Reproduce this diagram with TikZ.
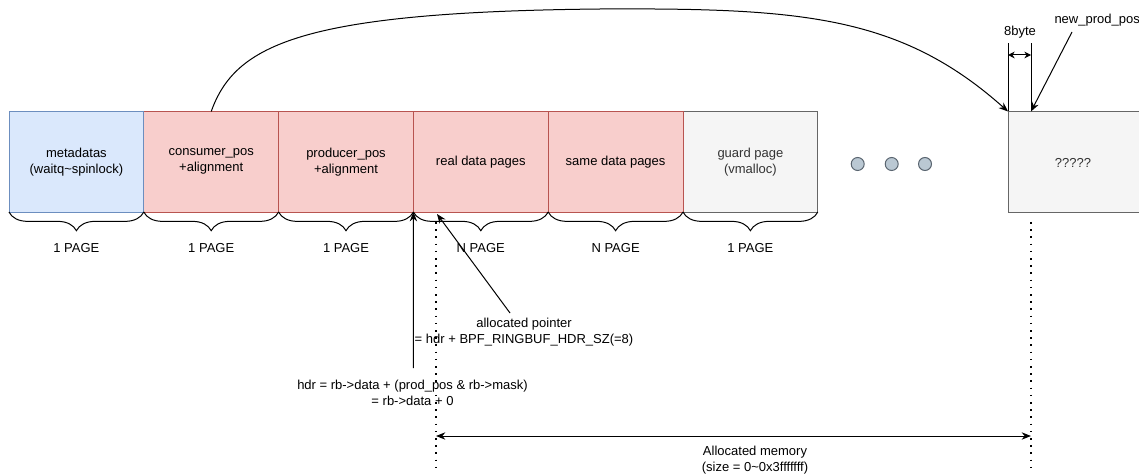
\documentclass[tikz,border=0pt]{standalone}
\usepackage{fontspec}
\setmainfont{Liberation Sans}
\usetikzlibrary{arrows.meta,decorations.pathreplacing}
\definecolor{bluefill}{HTML}{DAE8FC}
\definecolor{bluedraw}{HTML}{6C8EBF}
\definecolor{redfill}{HTML}{F8CECC}
\definecolor{reddraw}{HTML}{B85450}
\definecolor{grayfill}{HTML}{F5F5F5}
\definecolor{graydraw}{HTML}{666666}
\definecolor{graytext}{HTML}{333333}
\definecolor{dotfill}{HTML}{BAC8D3}
\definecolor{dotdraw}{HTML}{5A6570}
\begin{document}
\begin{tikzpicture}[x=0.75pt,y=-0.75pt,line width=0.75pt,
  font=\fontsize{9.75}{12}\selectfont,
  cell/.style={draw,minimum width=101.1pt,minimum height=75.4pt,anchor=north west,inner sep=0pt,outer sep=0pt,align=center},
  bluecell/.style={cell,fill=bluefill,draw=bluedraw},
  redcell/.style={cell,fill=redfill,draw=reddraw},
  graycell/.style={cell,fill=grayfill,draw=graydraw,text=graytext},
  pagebrace/.style={decorate,decoration={brace,mirror,amplitude=14pt}},
  lbl/.style={inner sep=0pt,align=center},
  arr/.style={-{Stealth[length=7pt,width=5.5pt]}},
  dblarr/.style={{Stealth[length=7pt,width=5.5pt]}-{Stealth[length=7pt,width=5.5pt]}},
  smallarr/.style={{Stealth[length=5pt,width=5pt]}-{Stealth[length=5pt,width=5pt]}},
  dotline/.style={line width=1.5pt,dash pattern=on 1.2pt off 4.2pt},
  ellipsisdot/.style={circle,draw=dotdraw,fill=dotfill,minimum size=9.75pt,inner sep=0pt}]
\clip (0,0) rectangle (1139,474);
\useasboundingbox (0,0) rectangle (1139,474);

% cells
\node[graycell] (g) at (683,111.5) {guard page\\(vmalloc)};
\node[graycell] (q) at (1008,111.5) {};
\node[redcell] (c) at (143.8,111.5) {consumer\_pos\\+alignment};
\node[redcell] (p) at (278.6,111.5) {producer\_pos\\+alignment};
\node[redcell] (r) at (413.4,111.5) {real data pages};
\node[redcell] (s) at (548.2,111.5) {same data pages};
\node[bluecell] (m) at (9,111.5) {metadatas\\(waitq\textasciitilde spinlock)};
\node[lbl,text=graytext] (qt) at (1073,163) {?????};

% ellipsis dots
\node[ellipsisdot] (d1) at (857.7,164) {};
\node[ellipsisdot] (d2) at (891.7,164) {};
\node[ellipsisdot] (d3) at (925,164) {};

% braces
\foreach \n in {m,c,p,r,s,g}{
  \draw[pagebrace] (\n.south west) -- (\n.south east);
}
\node[lbl] (lm) at (76.4,248) {1 PAGE};
\node[lbl] (lc) at (211.2,248) {1 PAGE};
\node[lbl] (lp) at (346,248) {1 PAGE};
\node[lbl] (lr) at (480.8,248) {N PAGE};
\node[lbl] (ls) at (615.6,248) {N PAGE};
\node[lbl] (lg) at (750.4,248) {1 PAGE};

% big curved arrow
\draw[arr] (c.north) .. controls (235,45) and (300,12) .. (600,9)
  .. controls (800,8) and (900,15) .. (q.north west);

% 8byte marker
\coordinate (b1) at (1008,43);
\coordinate (b2) at (1031,43);
\coordinate (b2bot) at (1031,111.5);
\coordinate (ba) at (1008,55);
\coordinate (bb) at (1031,55);
\draw (q.north west) -- (b1);
\draw (b2bot) -- (b2);
\draw[smallarr] (ba) -- (bb);
\node[lbl] (eb) at (1020,32) {8byte};
\node[lbl,anchor=west] (np) at (1054,20) {new\_prod\_pos};
\coordinate (npfoot) at (1072,32);
\draw[arr] (npfoot) -- (b2bot);

% dotted guides
\coordinate (dl1) at (436,222);
\coordinate (dl2) at (436,474);
\coordinate (dr1) at (1031,222);
\coordinate (dr2) at (1031,474);
\draw[dotline] (dl1) -- (dl2);
\draw[dotline] (dr1) -- (dr2);

% hdr arrow
\coordinate (hdrfoot) at (413.4,368);
\draw[arr] (hdrfoot) -- (p.south east);
\node[lbl] (hdr) at (412.5,393) {hdr = rb->data + (prod\_pos \& rb->mask)\\= rb->data + 0};

% allocated pointer
\coordinate (apfoot) at (510,313);
\coordinate (aptip) at (437,214);
\draw[arr] (apfoot) -- (aptip);
\node[lbl] (ap) at (524,332.5) {allocated pointer\\= hdr + BPF\_RINGBUF\_HDR\_SZ(=8)};

% allocated memory
\coordinate (am1) at (436,436);
\coordinate (am2) at (1031,436);
\draw[dblarr] (am1) -- (am2);
\node[lbl] (amt) at (755,460) {Allocated memory\\(size = 0\textasciitilde 0x3fffffff)};
\end{tikzpicture}
\end{document}
